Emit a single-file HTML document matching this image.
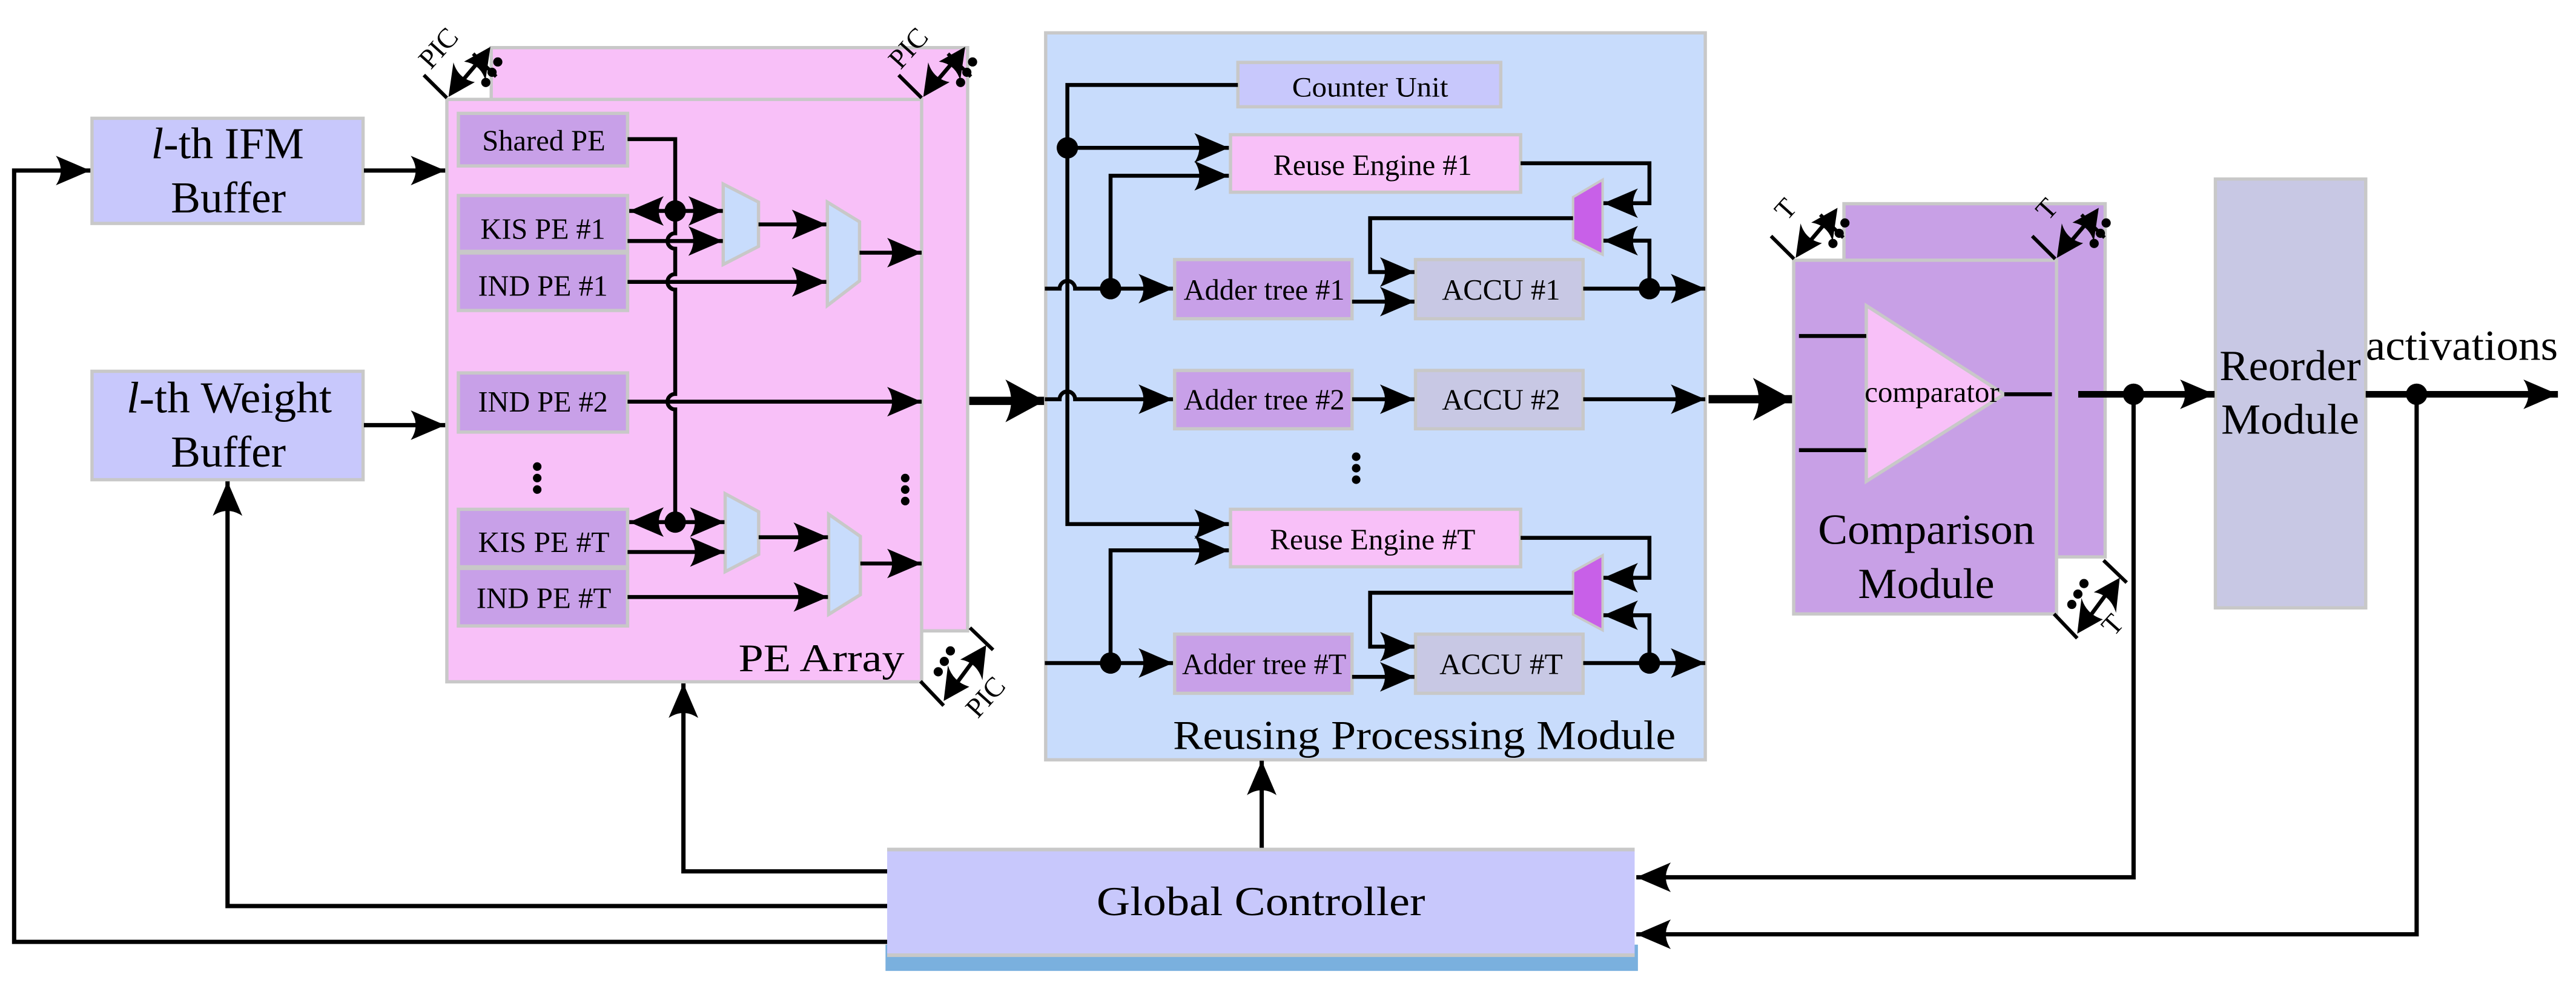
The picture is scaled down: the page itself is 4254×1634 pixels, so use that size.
<!DOCTYPE html>
<html><head><meta charset="utf-8"><style>
html,body{margin:0;padding:0;background:#fff;}
svg{display:block;}
svg text{font-family:"Liberation Serif","Times New Roman","DejaVu Serif","Noto Serif CJK SC",serif;}
</style></head><body>
<svg xmlns="http://www.w3.org/2000/svg" width="4254" height="1634" viewBox="0 0 1568 602" preserveAspectRatio="none">
<defs>
<marker id="a" markerUnits="userSpaceOnUse" markerWidth="30" markerHeight="24" refX="21" refY="9" orient="auto" overflow="visible">
<path d="M21,9 L0,0 Q6,9 0,18 Z" fill="#000"/>
</marker>
<marker id="A" markerUnits="userSpaceOnUse" markerWidth="34" markerHeight="34" refX="24" refY="13" orient="auto" overflow="visible">
<path d="M24,13 L0,0 Q7,13 0,26 Z" fill="#000"/>
</marker>
<g id="picTL">
<line x1="258" y1="45.7" x2="272" y2="59.6" stroke="#000" stroke-width="2.2"/>
<line x1="288" y1="32.7" x2="302" y2="46.6" stroke="#000" stroke-width="2.2"/>
<line x1="279" y1="52" x2="293" y2="35.5" stroke="#000" stroke-width="2.4"/>
<path d="M273,59 L276,38 Q279,48 289,50 Z" fill="#000"/>
<path d="M298.5,28.5 L295.5,49 Q292.5,39 282.5,37.5 Z" fill="#000"/>
<circle cx="303" cy="37.7" r="2.8" fill="#000"/>
<circle cx="299.5" cy="44" r="2.8" fill="#000"/>
<circle cx="295.7" cy="50.2" r="2.8" fill="#000"/>
</g>
<g id="picBR">
<line x1="560.3" y1="414.7" x2="574.4" y2="429.5" stroke="#000" stroke-width="2.2"/>
<line x1="590.4" y1="382.1" x2="604.5" y2="395.6" stroke="#000" stroke-width="2.2"/>
<line x1="580" y1="419" x2="594" y2="400" stroke="#000" stroke-width="2.4"/>
<path d="M574.4,426.7 L577,405 Q580,415 590,418 Z" fill="#000"/>
<path d="M600.3,392.7 L598,414 Q594.5,403 584.5,401.5 Z" fill="#000"/>
<circle cx="578.5" cy="396.2" r="2.8" fill="#000"/>
<circle cx="574.8" cy="402.6" r="2.8" fill="#000"/>
<circle cx="571.1" cy="408.9" r="2.8" fill="#000"/>
</g>
</defs>

<rect x="56" y="72" width="165" height="64" fill="#c8c8fc" stroke="#c8c8c8" stroke-width="2"/>
<text x="138.5" y="96.4" font-size="27" text-anchor="middle" textLength="93" lengthAdjust="spacingAndGlyphs"><tspan font-style="italic">l</tspan>-th IFM</text>
<text x="139" y="129.4" font-size="27" text-anchor="middle" textLength="70" lengthAdjust="spacingAndGlyphs">Buffer</text>
<rect x="56" y="226" width="165" height="66" fill="#c8c8fc" stroke="#c8c8c8" stroke-width="2"/>
<text x="139.5" y="251" font-size="27" text-anchor="middle" textLength="125" lengthAdjust="spacingAndGlyphs"><tspan font-style="italic">l</tspan>-th Weight</text>
<text x="139" y="284" font-size="27" text-anchor="middle" textLength="70" lengthAdjust="spacingAndGlyphs">Buffer</text>

<rect x="299" y="29" width="290" height="355" fill="#f8c0f8" stroke="#c8c8c8" stroke-width="2"/>
<rect x="272" y="60.5" width="289" height="354.5" fill="#f8c0f8" stroke="#c8c8c8" stroke-width="2"/>
<g stroke="#c8c8c8" stroke-width="2" fill="#c8a0e8">
<rect x="279" y="69" width="103" height="32"/>
<rect x="279" y="119" width="103" height="34"/>
<rect x="279" y="154" width="103" height="35"/>
<rect x="279" y="227" width="103" height="36"/>
<rect x="279" y="310" width="103" height="35"/>
<rect x="279" y="346" width="103" height="35"/>
</g>
<g font-size="18" text-anchor="middle">
<text x="331" y="91.5" textLength="75" lengthAdjust="spacingAndGlyphs">Shared PE</text>
<text x="330.5" y="145.4" textLength="76" lengthAdjust="spacingAndGlyphs">KIS PE #1</text>
<text x="330.5" y="180" textLength="79" lengthAdjust="spacingAndGlyphs">IND PE #1</text>
<text x="330.5" y="250.5" textLength="79" lengthAdjust="spacingAndGlyphs">IND PE #2</text>
<text x="331" y="336" textLength="80" lengthAdjust="spacingAndGlyphs">KIS PE #T</text>
<text x="331" y="370" textLength="82" lengthAdjust="spacingAndGlyphs">IND PE #T</text>
</g>
<text x="500" y="408.5" font-size="24" text-anchor="middle" textLength="101" lengthAdjust="spacingAndGlyphs">PE Array</text>
<g fill="#c8dcfc" stroke="#c8c8c8" stroke-width="2">
<polygon points="440.2,112 461.7,123 461.7,150 440.2,161"/>
<polygon points="503.6,123 523.2,135 523.2,171 503.6,186"/>
<polygon points="441.4,300.5 461.8,311.5 461.8,337.4 441.4,348"/>
<polygon points="504.4,313 523.7,326.5 523.7,362 504.4,374"/>
</g>
<g stroke="#000" stroke-width="2.4" fill="none">
<path d="M382,84.7 L411,84.7 L411,142 A4.7,4.7 0 0 0 411,151.4 L411,166.9 A4.7,4.7 0 0 0 411,176.3 L411,239.8 A4.7,4.7 0 0 0 411,249.2 L411,317.8"/>
<path d="M411,128.4 L383,128.4" marker-end="url(#a)"/>
<path d="M411,128.4 L440,128.4" marker-end="url(#a)"/>
<path d="M382,146.7 L440,146.7" marker-end="url(#a)"/>
<path d="M461.7,136.6 L503,136.6" marker-end="url(#a)"/>
<path d="M382,171.6 L503,171.6" marker-end="url(#a)"/>
<path d="M523.2,153.8 L561,153.8" marker-end="url(#a)"/>
<path d="M382,244.5 L561,244.5" marker-end="url(#a)"/>
<path d="M411,317.8 L383,317.8" marker-end="url(#a)"/>
<path d="M411,317.8 L441,317.8" marker-end="url(#a)"/>
<path d="M382,336 L441,336" marker-end="url(#a)"/>
<path d="M461.8,327 L504,327" marker-end="url(#a)"/>
<path d="M382,363.4 L504,363.4" marker-end="url(#a)"/>
<path d="M523.7,343 L561,343" marker-end="url(#a)"/>
</g>
<g fill="#000">
<circle cx="411" cy="128.4" r="6.5"/><circle cx="411" cy="317.8" r="6.5"/>
<circle cx="327" cy="284" r="2.6"/><circle cx="327" cy="291" r="2.6"/><circle cx="327" cy="298" r="2.6"/>
<circle cx="551" cy="291" r="2.6"/><circle cx="551" cy="298" r="2.6"/><circle cx="551" cy="305" r="2.6"/>
</g>
<use href="#picTL"/>
<text transform="translate(271,33) rotate(-48)" font-size="17" text-anchor="middle">PIC</text>
<use href="#picTL" transform="translate(289,0)"/>
<text transform="translate(557,33) rotate(-48)" font-size="17" text-anchor="middle">PIC</text>
<use href="#picBR"/>
<text transform="translate(604,428) rotate(-48)" font-size="17" text-anchor="middle">PIC</text>

<path d="M590,244 L636,244" stroke="#000" stroke-width="5" fill="none" marker-end="url(#A)"/>

<rect x="636.5" y="20" width="401.5" height="442.5" fill="#c8dcfc" stroke="#c8c8c8" stroke-width="2"/>
<rect x="753.5" y="38" width="160" height="27" fill="#c8c8fc" stroke="#c8c8c8" stroke-width="2"/>
<text x="834" y="58.7" font-size="17" text-anchor="middle" textLength="95" lengthAdjust="spacingAndGlyphs">Counter Unit</text>
<g stroke="#c8c8c8" stroke-width="2">
<rect x="749" y="82" width="176.6" height="35" fill="#f8c0f8"/>
<rect x="749" y="310" width="176.6" height="35" fill="#f8c0f8"/>
<rect x="715" y="158" width="108" height="36" fill="#c8a0e8"/>
<rect x="715" y="225.5" width="108" height="35.5" fill="#c8a0e8"/>
<rect x="715" y="386" width="108" height="36" fill="#c8a0e8"/>
<rect x="861.6" y="158" width="102" height="36" fill="#c8c8e4"/>
<rect x="861.6" y="225.5" width="102" height="35.5" fill="#c8c8e4"/>
<rect x="861.6" y="386" width="102" height="36" fill="#c8c8e4"/>
</g>
<g font-size="18" text-anchor="middle">
<text x="835.5" y="106.4" textLength="121" lengthAdjust="spacingAndGlyphs">Reuse Engine #1</text>
<text x="835.5" y="334.3" textLength="125" lengthAdjust="spacingAndGlyphs">Reuse Engine #T</text>
<text x="769.5" y="182.4" textLength="98" lengthAdjust="spacingAndGlyphs">Adder tree #1</text>
<text x="769.5" y="249.2" textLength="98" lengthAdjust="spacingAndGlyphs">Adder tree #2</text>
<text x="769.5" y="410.3" textLength="100" lengthAdjust="spacingAndGlyphs">Adder tree #T</text>
<text x="913.7" y="182.4" textLength="72" lengthAdjust="spacingAndGlyphs">ACCU #1</text>
<text x="913.7" y="249.2" textLength="72" lengthAdjust="spacingAndGlyphs">ACCU #2</text>
<text x="913.7" y="410.3" textLength="75" lengthAdjust="spacingAndGlyphs">ACCU #T</text>
</g>
<text x="867" y="456" font-size="25" text-anchor="middle" textLength="306" lengthAdjust="spacingAndGlyphs">Reusing Processing Module</text>
<g fill="#c860e8" stroke="#c8c8c8" stroke-width="1.5">
<polygon points="957.5,120 975.5,109.4 975.5,155 957.5,146"/>
<polygon points="957.5,348 975.5,338 975.5,383.6 957.5,374"/>
</g>
<g stroke="#000" stroke-width="2.4" fill="none">
<path d="M753.5,51.7 L649.7,51.7 L649.7,319 L748,319" marker-end="url(#a)"/>
<path d="M649.7,90 L748,90" marker-end="url(#a)"/>
<path d="M636,175.7 L645,175.7 A4.7,4.7 0 0 1 654.4,175.7 L714,175.7" marker-end="url(#a)"/>
<path d="M676,175.7 L676,107 L748,107" marker-end="url(#a)"/>
<path d="M823,183.6 L861,183.6" marker-end="url(#a)"/>
<path d="M957.5,132.8 L834,132.8 L834,165.6 L861,165.6" marker-end="url(#a)"/>
<path d="M925.6,99.4 L1004,99.4 L1004,123.7 L976,123.7" marker-end="url(#a)"/>
<path d="M963.7,175.7 L1038,175.7" marker-end="url(#a)"/>
<path d="M1004,175.7 L1004,146.5 L976,146.5" marker-end="url(#a)"/>
<path d="M636,243 L645,243 A4.7,4.7 0 0 1 654.4,243 L714,243" marker-end="url(#a)"/>
<path d="M823,243 L861,243" marker-end="url(#a)"/>
<path d="M963.7,243 L1038,243" marker-end="url(#a)"/>
<path d="M636,403.6 L714,403.6" marker-end="url(#a)"/>
<path d="M676,403.6 L676,335 L748,335" marker-end="url(#a)"/>
<path d="M823,412 L861,412" marker-end="url(#a)"/>
<path d="M957.5,360.8 L834,360.8 L834,393.6 L861,393.6" marker-end="url(#a)"/>
<path d="M925.6,327.4 L1004,327.4 L1004,351.7 L976,351.7" marker-end="url(#a)"/>
<path d="M963.7,403.6 L1038,403.6" marker-end="url(#a)"/>
<path d="M1004,403.6 L1004,374.5 L976,374.5" marker-end="url(#a)"/>
</g>
<g fill="#000">
<circle cx="649.7" cy="90" r="6.5"/><circle cx="676" cy="175.7" r="6.5"/><circle cx="1004" cy="175.7" r="6.5"/>
<circle cx="676" cy="403.6" r="6.5"/><circle cx="1004" cy="403.6" r="6.5"/>
<circle cx="825.5" cy="278" r="2.6"/><circle cx="825.5" cy="285" r="2.6"/><circle cx="825.5" cy="292" r="2.6"/>
</g>

<path d="M1040,243 L1091,243" stroke="#000" stroke-width="5" fill="none" marker-end="url(#A)"/>

<rect x="1122.4" y="124" width="159" height="215" fill="#c8a0e6" stroke="#c8c8c8" stroke-width="2"/>
<rect x="1091.8" y="158.4" width="160" height="215.3" fill="#c8a0e6" stroke="#c8c8c8" stroke-width="2"/>
<polygon points="1136,186 1220,240 1136,293" fill="#f8c0f8" stroke="#c8c8c8" stroke-width="2"/>
<text x="1176" y="244.7" font-size="18" text-anchor="middle" textLength="82" lengthAdjust="spacingAndGlyphs">comparator</text>
<text x="1172.6" y="331" font-size="26" text-anchor="middle" textLength="132" lengthAdjust="spacingAndGlyphs">Comparison</text>
<text x="1172.5" y="364" font-size="26" text-anchor="middle" textLength="83" lengthAdjust="spacingAndGlyphs">Module</text>
<g stroke="#000" stroke-width="2.4" fill="none">
<path d="M1095,204.5 L1136,204.5"/>
<path d="M1095,274 L1136,274"/>
<path d="M1220,240 L1249,240"/>
</g>
<g transform="translate(820,98)"><use href="#picTL"/></g>
<text transform="translate(1091,131) rotate(-48)" font-size="17" text-anchor="middle">T</text>
<g transform="translate(979,98)"><use href="#picTL"/></g>
<text transform="translate(1250,131) rotate(-48)" font-size="17" text-anchor="middle">T</text>
<g transform="translate(690,-41)"><use href="#picBR"/>
<text transform="translate(600,425) rotate(-48)" font-size="17" text-anchor="middle">T</text>
</g>

<rect x="1348.5" y="109" width="91.5" height="261" fill="#c8c8e4" stroke="#c8c8c8" stroke-width="2"/>
<text x="1394" y="231.4" font-size="26" text-anchor="middle" textLength="86" lengthAdjust="spacingAndGlyphs">Reorder</text>
<text x="1394" y="264" font-size="26" text-anchor="middle" textLength="84" lengthAdjust="spacingAndGlyphs">Module</text>
<text x="1498.5" y="219" font-size="26" text-anchor="middle" textLength="117" lengthAdjust="spacingAndGlyphs">activations</text>
<g stroke="#000" fill="none">
<path d="M1265,240 L1348,240" stroke-width="4" marker-end="url(#a)"/>
<path d="M1440,240 L1557,240" stroke-width="4" marker-end="url(#a)"/>
</g>
<circle cx="1298.7" cy="240" r="6.5" fill="#000"/>
<circle cx="1471" cy="240" r="6.5" fill="#000"/>

<rect x="539" y="575" width="458" height="16" fill="#7ab0de"/>
<rect x="540" y="516" width="455" height="66.5" fill="#c8c8fc"/>
<rect x="540" y="516" width="455" height="2.2" fill="#c8c8c8"/>
<rect x="540" y="580.3" width="455" height="2.2" fill="#c8c8c8"/>
<text x="767.5" y="557" font-size="25" text-anchor="middle" textLength="200" lengthAdjust="spacingAndGlyphs">Global  Controller</text>

<g stroke="#000" stroke-width="2.6" fill="none">
<path d="M540,573.3 L8.6,573.3 L8.6,103.8 L55,103.8" marker-end="url(#a)"/>
<path d="M540,551.5 L138.5,551.5 L138.5,293" marker-end="url(#a)"/>
<path d="M540,530.4 L416,530.4 L416,416" marker-end="url(#a)"/>
<path d="M768,516 L768,463" marker-end="url(#a)"/>
<path d="M1298.7,240 L1298.7,534 L996,534" marker-end="url(#a)"/>
<path d="M1471,240 L1471,568.7 L996,568.7" marker-end="url(#a)"/>
<path d="M221.5,103.8 L271,103.8" marker-end="url(#a)"/>
<path d="M221.5,258.8 L271,258.8" marker-end="url(#a)"/>
</g>
</svg>
</body></html>
